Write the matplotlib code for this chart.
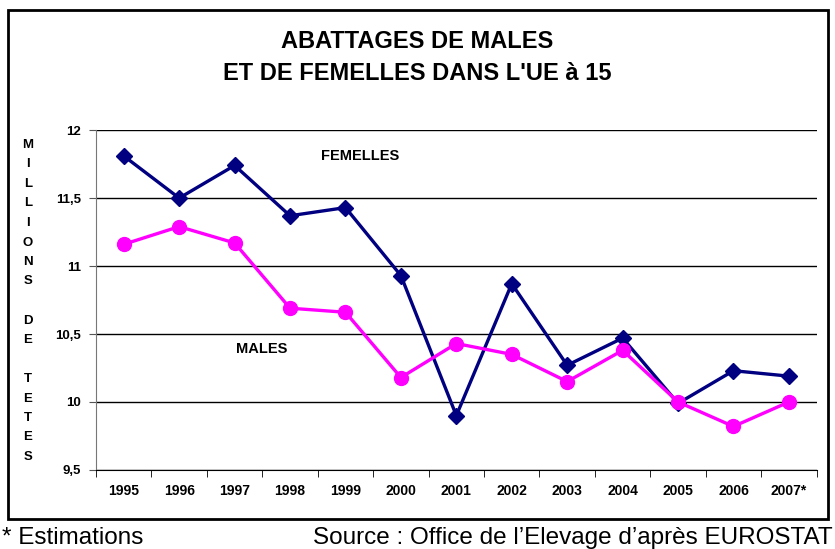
import numpy as np
import matplotlib.pyplot as plt
from matplotlib.patches import Rectangle

plt.rcParams['font.family'] = ['Liberation Sans', 'DejaVu Sans']

years = ['1995', '1996', '1997', '1998', '1999', '2000', '2001',
         '2002', '2003', '2004', '2005', '2006', '2007*']
femelles = [11.81, 11.50, 11.74, 11.37, 11.43, 10.93, 9.90,
            10.87, 10.27, 10.47, 9.99, 10.23, 10.19]
males = [11.16, 11.29, 11.17, 10.69, 10.66, 10.18, 10.43,
         10.35, 10.15, 10.38, 10.00, 9.82, 10.00]
yticks = [9.5, 10, 10.5, 11, 11.5, 12]
ytick_labels = ['9,5', '10', '10,5', '11', '11,5', '12']

fig = plt.figure(figsize=(8.35, 5.49), dpi=100)
ax = fig.add_axes([0.115, 0.144, 0.863, 0.619])

x = np.arange(len(years))
ax.plot(x, femelles, color='#000080', lw=2.4, marker='D', ms=8, zorder=3)
ax.plot(x, males, color='#FF00FF', lw=2.4, marker='o', ms=10, zorder=3)

ax.set_xlim(-0.5, len(years) - 0.5)
ax.set_ylim(9.5, 12)
ax.set_yticks(yticks)
ax.set_yticklabels(ytick_labels, fontsize=9.5, fontweight='bold')
ax.set_xticks(x)
ax.set_xticklabels(years, fontsize=10, fontweight='bold')
ax.tick_params(axis='x', length=0, pad=10)
ax.set_xticks(np.arange(-0.5, len(years)), minor=True)
ax.tick_params(axis='x', which='minor', length=5, direction='out', color='black')
ax.tick_params(axis='y', length=5, direction='out', color='#555555', pad=6)
ax.grid(axis='y', color='black', lw=1)
ax.set_axisbelow(True)
for s in ['top', 'right']:
    ax.spines[s].set_visible(False)
ax.spines['left'].set_color('#777777')
ax.spines['bottom'].set_color('black')

ax.text(4.27, 11.81, 'FEMELLES', fontsize=10.5, fontweight='bold', ha='center', va='center')
ax.text(2.49, 10.39, 'MALES', fontsize=10.5, fontweight='bold', ha='center', va='center')

fig.text(0.5, 1 - 42 / 549, 'ABATTAGES DE MALES', ha='center', va='center',
         fontsize=17, fontweight='bold')
fig.text(0.5, 1 - 73 / 549, "ET DE FEMELLES DANS L'UE à 15", ha='center', va='center',
         fontsize=17, fontweight='bold')

letters = list("MILLIONS") + [''] + list("DE") + [''] + list("TETES")
ys = np.linspace(145, 457, len(letters))
for ch, yp in zip(letters, ys):
    fig.text(28 / 835, 1 - yp / 549, ch, ha='center', va='center',
             fontsize=9.5, fontweight='bold')

fig.patches.append(Rectangle((8 / 835, 1 - 519 / 549), 820 / 835, 509 / 549,
                             transform=fig.transFigure, fill=False,
                             edgecolor='black', lw=2))

fig.text(2 / 835, 1 - 538 / 549, '* Estimations', fontsize=17.5, va='center', ha='left')
fig.text(833 / 835, 1 - 538 / 549, "Source : Office de l’Elevage d’après EUROSTAT",
         fontsize=17.5, va='center', ha='right')

fig.savefig('out.png', dpi=100)
